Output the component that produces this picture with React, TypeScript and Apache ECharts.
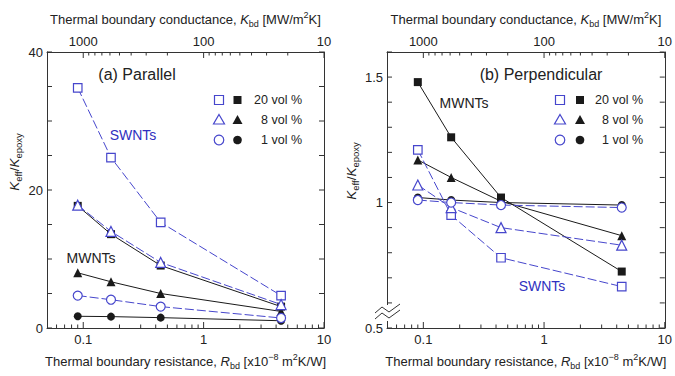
import React, { useEffect, useRef } from 'react';
import * as echarts from 'echarts';

// Thermal boundary resistance R_bd [x10^-8 m^2K/W]
const R_BD = [0.09, 0.17, 0.44, 4.4];

// (a) Parallel  Keff/Kepoxy
const parSW20 = [34.8, 24.7, 15.3, 4.7];
const parSW8 = [17.8, 14.0, 9.5, 3.4];
const parSW1 = [4.7, 4.1, 3.1, 1.45];
const parMW20 = [17.7, 13.6, 9.05, 3.1];
const parMW8 = [8.0, 6.7, 5.0, 2.4];
const parMW1 = [1.7, 1.65, 1.5, 1.05];

// (b) Perpendicular  Keff/Kepoxy
const perSW20 = [1.21, 0.95, 0.78, 0.665];
const perSW8 = [1.07, 0.98, 0.9, 0.83];
const perSW1 = [1.01, 1.0, 0.99, 0.98];
const perMW20 = [1.48, 1.26, 1.02, 0.725];
const perMW8 = [1.17, 1.1, 1.005, 0.868];
const perMW1 = [1.02, 1.01, 1.0, 0.99];

// axis ticks and labels
const X_MAJOR = [0.1, 1, 10];
const X_MINOR = [0.06, 0.07, 0.08, 0.09, 0.2, 0.3, 0.4, 0.5, 0.6, 0.7, 0.8, 0.9, 2, 3, 4, 5, 6, 7, 8, 9];
const K_MAJOR = [1000, 100, 10];
const K_MINOR = [900, 800, 700, 600, 500, 400, 300, 200, 90, 80, 70, 60, 50, 40, 30, 20];
const YA_TICKS = [0, 5, 10, 15, 20, 25, 30, 35, 40];
const YA_LABELS = [0, 20, 40];
const YB_TICKS = [0.5, 0.6, 0.7, 0.8, 0.9, 1.0, 1.1, 1.2, 1.3, 1.4, 1.5, 1.6];
const YB_LABELS = [0.5, 1, 1.5];
const LEGEND_LABELS = ['20 vol %', '8 vol %', '1 vol %'];

const FONT = '"Liberation Sans", Arial, sans-serif';
const TXT = '#222';
const AX = '#333';
const BLUE = '#4646cc';
const BLACK = '#1a1a1a';

const fmt = (v: number) => String(+Number(v).toPrecision(6));

const rich = {
  i: { fontStyle: 'italic', fontSize: 13, fontFamily: FONT, color: TXT, lineHeight: 18 },
  sub: { fontSize: 9, fontFamily: FONT, color: TXT, verticalAlign: 'bottom', lineHeight: 10 },
  sup: { fontSize: 9, fontFamily: FONT, color: TXT, verticalAlign: 'top', lineHeight: 10 },
};

const GRIDS = [
  { left: 47, top: 52, width: 277, height: 276 },
  { left: 387, top: 52, width: 278, height: 276 },
];

const lineOn = { show: true, onZero: false, lineStyle: { color: AX, width: 1 } };

function xAxesFor(gi: number) {
  return [
    {
      gridIndex: gi, type: 'log', position: 'bottom', min: 0.05, max: 10,
      splitLine: { show: false }, axisLine: lineOn, axisTick: { show: false },
      axisLabel: { show: true, customValues: X_MAJOR, formatter: fmt, fontSize: 13, fontFamily: FONT, color: TXT, margin: 5 },
      name: 'Thermal boundary resistance, {i|R}{sub|bd} [x10{sup|\u22128} m{sup|2}K/W]',
      nameLocation: 'middle', nameGap: 24,
      nameTextStyle: { fontSize: 13, fontFamily: FONT, color: TXT, lineHeight: 18, rich },
    },
    {
      gridIndex: gi, type: 'log', position: 'top', inverse: true, min: 10, max: 2000,
      splitLine: { show: false }, axisLine: lineOn, axisTick: { show: false },
      axisLabel: { show: true, customValues: K_MAJOR, formatter: fmt, fontSize: 13, fontFamily: FONT, color: TXT, margin: 4 },
      name: 'Thermal boundary conductance, {i|K}{sub|bd} [MW/m{sup|2}K]',
      nameLocation: 'middle', nameGap: 24,
      nameTextStyle: { fontSize: 13, fontFamily: FONT, color: TXT, lineHeight: 18, rich },
    },
  ];
}

function yAxesFor(gi: number, min: number, max: number, interval: number, labels: number[]) {
  return [
    {
      gridIndex: gi, type: 'value', position: 'left', min, max, interval,
      splitLine: { show: false }, axisLine: lineOn, axisTick: { show: false },
      axisLabel: { show: true, customValues: labels, formatter: fmt, fontSize: 13, fontFamily: FONT, color: TXT, margin: 4 },
    },
    {
      gridIndex: gi, type: 'value', position: 'right', min, max, interval,
      splitLine: { show: false }, axisLine: lineOn, axisTick: { show: false }, axisLabel: { show: false },
    },
  ];
}

// inward tick marks, placed through the axes' own scales
function ticks(xi: number, yi: number, pts: number[][], dx: number, dy: number) {
  return {
    type: 'custom', xAxisIndex: xi, yAxisIndex: yi, silent: true, z: 5,
    data: pts,
    renderItem: (_p: any, api: any) => {
      const c = api.coord([api.value(0), api.value(1)]);
      return { type: 'line', shape: { x1: c[0], y1: c[1], x2: c[0] + dx, y2: c[1] + dy }, style: { stroke: AX, lineWidth: 1 } };
    },
  };
}

function tickSeriesFor(xb: number, xt: number, yl: number, ymin: number, ymax: number, yTicks: number[]) {
  return [
    ticks(xb, yl, X_MAJOR.map((v) => [v, ymin]), 0, -6),
    ticks(xb, yl, X_MINOR.map((v) => [v, ymin]), 0, -3.5),
    ticks(xt, yl, K_MAJOR.map((v) => [v, ymax]), 0, 6),
    ticks(xt, yl, K_MINOR.map((v) => [v, ymax]), 0, 3.5),
    ticks(xb, yl, yTicks.map((v) => [0.05, v]), 5, 0),
    ticks(xb, yl, yTicks.map((v) => [10, v]), -5, 0),
  ];
}

function mk(name: string, vals: number[], open: boolean, symbol: string, size: number, xi: number, yi: number) {
  return {
    type: 'line', name, xAxisIndex: xi, yAxisIndex: yi,
    data: R_BD.map((r, i) => [r, vals[i]]),
    symbol, symbolSize: size, showSymbol: true, z: open ? 4 : 3,
    lineStyle: open ? { color: BLUE, width: 1, type: [9, 3] } : { color: BLACK, width: 1 },
    itemStyle: open ? { color: '#fff', borderColor: BLUE, borderWidth: 1.2 } : { color: BLACK, borderWidth: 0 },
    emphasis: { disabled: true },
  };
}

function legendFor(openX: number, fillX: number, textRight: number, y0: number) {
  const els: any[] = [];
  const rows = [y0, y0 + 20, y0 + 40];
  els.push({ type: 'rect', shape: { x: openX - 4.5, y: rows[0] - 4.5, width: 9, height: 9 }, style: { fill: '#fff', stroke: BLUE, lineWidth: 1.2 } });
  els.push({ type: 'rect', shape: { x: fillX - 4, y: rows[0] - 4, width: 8, height: 8 }, style: { fill: BLACK } });
  els.push({ type: 'polygon', shape: { points: [[openX, rows[1] - 5.5], [openX + 5.5, rows[1] + 4], [openX - 5.5, rows[1] + 4]] }, style: { fill: '#fff', stroke: BLUE, lineWidth: 1.2 } });
  els.push({ type: 'polygon', shape: { points: [[fillX, rows[1] - 5], [fillX + 5, rows[1] + 4], [fillX - 5, rows[1] + 4]] }, style: { fill: BLACK } });
  els.push({ type: 'circle', shape: { cx: openX, cy: rows[2], r: 4.8 }, style: { fill: '#fff', stroke: BLUE, lineWidth: 1.2 } });
  els.push({ type: 'circle', shape: { cx: fillX, cy: rows[2], r: 4.3 }, style: { fill: BLACK } });
  LEGEND_LABELS.forEach((t, i) => {
    els.push({ type: 'text', x: textRight, y: rows[i], style: { text: t, fontSize: 12.5, fontFamily: FONT, fill: TXT, align: 'right', verticalAlign: 'middle' } });
  });
  return els;
}

const yRich = {
  i: { fontStyle: 'italic', fontSize: 13.5, fontFamily: FONT, fill: TXT, lineHeight: 18 },
  sub: { fontSize: 9.5, fontFamily: FONT, fill: TXT, verticalAlign: 'bottom', lineHeight: 10 },
  n: { fontSize: 13.5, fontFamily: FONT, fill: TXT, lineHeight: 18 },
};

export default function App() {
  const ref = useRef<HTMLDivElement>(null);
  useEffect(() => {
    if (!ref.current) return;
    const chart = echarts.init(ref.current, undefined, { renderer: 'svg' });
    const option: any = {
      animation: false,
      grid: GRIDS,
      xAxis: [...xAxesFor(0), ...xAxesFor(1)],
      yAxis: [...yAxesFor(0, 0, 40, 5, YA_LABELS), ...yAxesFor(1, 0.5, 1.6, 0.1, YB_LABELS)],
      series: [
        ...tickSeriesFor(0, 1, 0, 0, 40, YA_TICKS),
        ...tickSeriesFor(2, 3, 2, 0.5, 1.6, YB_TICKS),
        mk('MWNT 20 vol % (a)', parMW20, false, 'rect', 8, 0, 0),
        mk('MWNT 8 vol % (a)', parMW8, false, 'triangle', 9, 0, 0),
        mk('MWNT 1 vol % (a)', parMW1, false, 'circle', 8, 0, 0),
        mk('SWNT 20 vol % (a)', parSW20, true, 'rect', 8.5, 0, 0),
        mk('SWNT 8 vol % (a)', parSW8, true, 'triangle', 10, 0, 0),
        mk('SWNT 1 vol % (a)', parSW1, true, 'circle', 9, 0, 0),
        mk('MWNT 20 vol % (b)', perMW20, false, 'rect', 8, 2, 2),
        mk('MWNT 8 vol % (b)', perMW8, false, 'triangle', 9, 2, 2),
        mk('MWNT 1 vol % (b)', perMW1, false, 'circle', 8, 2, 2),
        mk('SWNT 20 vol % (b)', perSW20, true, 'rect', 8.5, 2, 2),
        mk('SWNT 8 vol % (b)', perSW8, true, 'triangle', 10, 2, 2),
        mk('SWNT 1 vol % (b)', perSW1, true, 'circle', 9, 2, 2),
      ],
      graphic: [
        { type: 'text', x: 14, y: 162, rotation: Math.PI / 2, style: { text: '{i|K}{sub|eff}{n|/}{i|K}{sub|epoxy}', rich: yRich, fontSize: 13.5, fontFamily: FONT, fill: TXT, align: 'center', verticalAlign: 'middle' } },
        { type: 'text', x: 351, y: 171, rotation: Math.PI / 2, style: { text: '{i|K}{sub|eff}{n|/}{i|K}{sub|epoxy}', rich: yRich, fontSize: 13.5, fontFamily: FONT, fill: TXT, align: 'center', verticalAlign: 'middle' } },
        { type: 'text', x: 137, y: 74, style: { text: '(a) Parallel', fontSize: 16, fontFamily: FONT, fill: TXT, align: 'center', verticalAlign: 'middle' } },
        { type: 'text', x: 541, y: 74, style: { text: '(b) Perpendicular', fontSize: 16, fontFamily: FONT, fill: TXT, align: 'center', verticalAlign: 'middle' } },
        { type: 'text', x: 133, y: 135, style: { text: 'SWNTs', fontSize: 14, fontFamily: FONT, fill: '#3030c0', align: 'center', verticalAlign: 'middle' } },
        { type: 'text', x: 91, y: 258, style: { text: 'MWNTs', fontSize: 14, fontFamily: FONT, fill: TXT, align: 'center', verticalAlign: 'middle' } },
        { type: 'text', x: 464, y: 103, style: { text: 'MWNTs', fontSize: 14, fontFamily: FONT, fill: TXT, align: 'center', verticalAlign: 'middle' } },
        { type: 'text', x: 542, y: 286, style: { text: 'SWNTs', fontSize: 14, fontFamily: FONT, fill: '#3030c0', align: 'center', verticalAlign: 'middle' } },
        ...legendFor(219, 237.5, 302, 100),
        ...legendFor(560, 580, 643, 100),
        { type: 'rect', shape: { x: 384, y: 305, width: 6, height: 16 }, style: { fill: '#fff' }, z: 50 },
        { type: 'polyline', shape: { points: [[375, 313], [382, 307], [389, 312], [400, 304]] }, style: { stroke: AX, lineWidth: 1, fill: 'none' }, z: 51 },
        { type: 'polyline', shape: { points: [[375, 319], [382, 313], [389, 318], [400, 310]] }, style: { stroke: AX, lineWidth: 1, fill: 'none' }, z: 51 },
      ],
    };
    chart.setOption(option);
    return () => chart.dispose();
  }, []);
  return <div ref={ref} style={{ position: 'absolute', left: 0, top: 0, width: 675, height: 376 }} />;
}
